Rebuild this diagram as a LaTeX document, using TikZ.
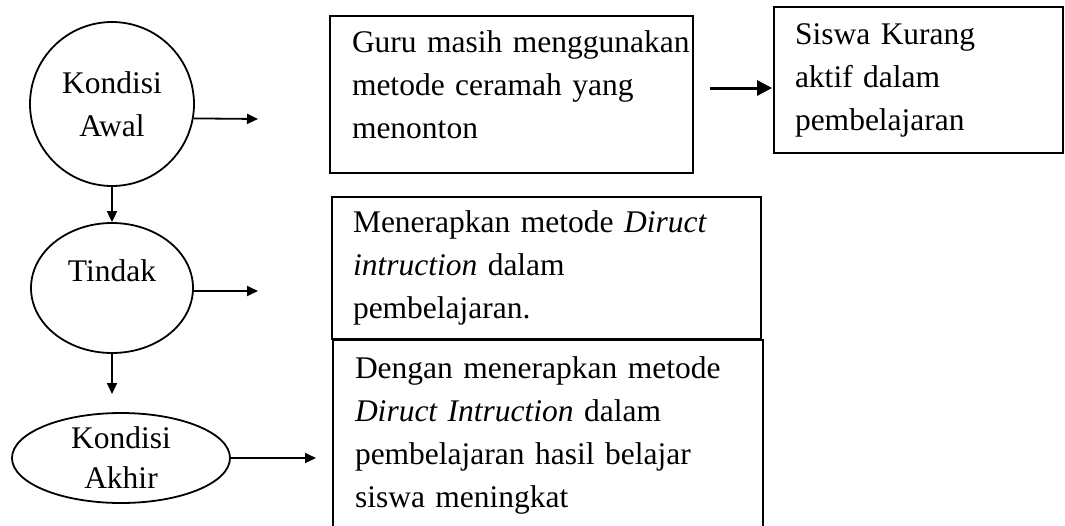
\documentclass[tikz,border=0pt]{standalone}
\usepackage{fontspec}
\setmainfont{Liberation Serif}
\usetikzlibrary{calc,positioning,arrows.meta,shapes}

\begin{document}
\begin{tikzpicture}[x=1pt,y=-1pt,
  every node/.style={font=\fontsize{31.5}{43}\selectfont},
  kond/.style={draw,line width=1.8pt,inner sep=0pt,align=center},
  kotak/.style={draw,line width=1.8pt,rectangle,align=left,inner ysep=0pt},
  panah/.style={-{Triangle[length=11pt,width=10pt]},line width=1.8pt},
  panahtebal/.style={-{Triangle[length=15pt,width=15pt]},line width=3pt}]
  \useasboundingbox (0,0) rectangle (1065,525);
  \node[kond,circle,minimum size=164pt] (awal) at (112,104) {Kondisi\\Awal};
  \node[kond,ellipse,minimum width=162pt,minimum height=130pt,text depth=34pt] (tindak) at (112,288) {Tindak};
  \node[kond,ellipse,minimum width=218pt,minimum height=90pt,font=\fontsize{31.5}{40}\selectfont] (akhir) at (121,458) {Kondisi\\Akhir};

  \node[kotak,minimum height=157pt,text width=319pt,inner xsep=22pt,text depth=106pt] (guru) at (511.5,94.5) {\mbox{Guru masih menggunakan}\\metode ceramah yang\\menonton};
  \node[kotak,minimum height=146pt,text width=247pt,inner xsep=21pt] (siswa) at (918.5,80) {Siswa Kurang\\aktif dalam\\pembelajaran};
  \node[kotak,minimum height=142pt,text width=387pt,inner xsep=21pt] (terapkan) at (546.5,268) {Menerapkan metode \textit{Diruct}\\\textit{intruction} dalam\\pembelajaran.};
  \node[kotak,minimum height=190pt,text width=386pt,inner xsep=22pt] (hasil) at (548,435) {Dengan menerapkan metode\\\textit{Diruct Intruction} dalam\\pembelajaran hasil belajar\\siswa meningkat};

  \coordinate (e1) at (258,119);
  \coordinate (e2) at (258,291);
  \coordinate (e3) at (316,458);
  \coordinate (k1) at (710,88);
  \coordinate (d2) at (112,394);
  \draw[panah] (awal.-10) -- (e1);
  \draw[panah] (tindak.east |- e2) -- (e2);
  \draw[panah] (akhir.east) -- (e3);
  \draw[panahtebal,shorten >=1pt] (k1) -- (k1 -| siswa.west);
  \draw[panah] (awal.south) -- (tindak.north);
  \draw[panah] (tindak.south) -- (d2);
\end{tikzpicture}
\end{document}
